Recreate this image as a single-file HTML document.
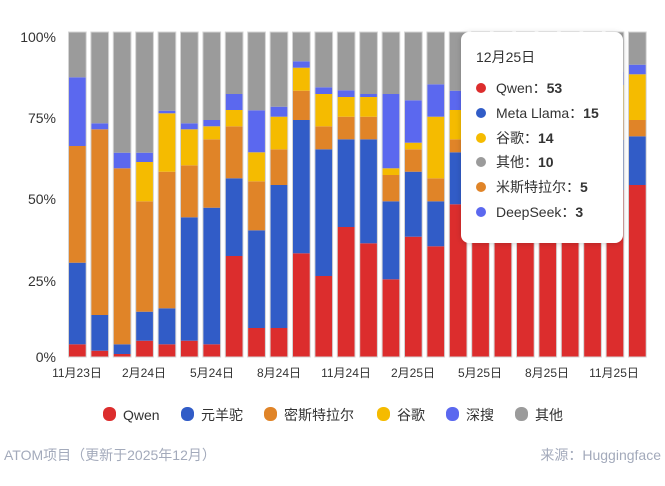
<!DOCTYPE html>
<html><head><meta charset="utf-8"><style>
body{margin:0;background:#fff;width:665px;height:481px;overflow:hidden}
text{font-family:"Liberation Sans","Noto Sans CJK SC",sans-serif}
</style></head><body>
<svg width="665" height="481" viewBox="0 0 665 481" xmlns="http://www.w3.org/2000/svg">
<g font-size="14" fill="#333" text-anchor="end">
<text x="56" y="42">100%</text><text x="56" y="123">75%</text><text x="56" y="204">50%</text><text x="56" y="286">25%</text><text x="56" y="362">0%</text>
</g>
<g id="bars"></g>
<g font-size="12" fill="#333" text-anchor="middle">
<text x="77" y="377">11月23日</text><text x="144" y="377">2月24日</text><text x="212" y="377">5月24日</text><text x="279" y="377">8月24日</text><text x="346" y="377">11月24日</text><text x="413" y="377">2月25日</text><text x="480" y="377">5月25日</text><text x="547" y="377">8月25日</text><text x="614" y="377">11月25日</text>
</g>
<g font-size="14" fill="#333">
<rect x="103" y="407" width="13" height="14" rx="6" fill="#dc2d2d"/><text x="123" y="420">Qwen</text>
<rect x="181" y="407" width="13" height="14" rx="6" fill="#315cc7"/><text x="201" y="420">元羊驼</text>
<rect x="264" y="407" width="13" height="14" rx="6" fill="#e08428"/><text x="284" y="420">密斯特拉尔</text>
<rect x="377" y="407" width="13" height="14" rx="6" fill="#f5bb00"/><text x="397" y="420">谷歌</text>
<rect x="446" y="407" width="13" height="14" rx="6" fill="#5b68ef"/><text x="466" y="420">深搜</text>
<rect x="515" y="407" width="13" height="14" rx="6" fill="#9b9b9b"/><text x="535" y="420">其他</text>
</g>
<g font-size="14" fill="#a3aabb">
<text x="4" y="460">ATOM项目（更新于2025年12月）</text>
<text x="661" y="460" text-anchor="end">来源：Huggingface</text>
</g>
<filter id="sh" x="-20%" y="-20%" width="140%" height="140%"><feDropShadow dx="0" dy="1" stdDeviation="3" flood-color="#000" flood-opacity="0.18"/></filter>
<rect x="461" y="32" width="162" height="211" rx="8" fill="#fff" filter="url(#sh)"/>
<g font-size="14" fill="#333">
<text x="476" y="62">12月25日</text>
<circle cx="481" cy="88" r="5" fill="#dc2d2d"/><text x="496" y="93">Qwen：<tspan font-weight="bold">53</tspan></text>
<circle cx="481" cy="113" r="5" fill="#315cc7"/><text x="496" y="118">Meta Llama：<tspan font-weight="bold">15</tspan></text>
<circle cx="481" cy="138" r="5" fill="#f5bb00"/><text x="496" y="143">谷歌：<tspan font-weight="bold">14</tspan></text>
<circle cx="481" cy="162" r="5" fill="#9b9b9b"/><text x="496" y="167">其他：<tspan font-weight="bold">10</tspan></text>
<circle cx="481" cy="187" r="5" fill="#e08428"/><text x="496" y="192">米斯特拉尔：<tspan font-weight="bold">5</tspan></text>
<circle cx="481" cy="212" r="5" fill="#5b68ef"/><text x="496" y="217">DeepSeek：<tspan font-weight="bold">3</tspan></text>
</g>
</svg>
<script>
var d=[[344.3,262.7,146,146,77.3],[350.7,315,129.3,129.3,123.3],[354,344.3,168.3,168.3,152.7],[340.7,311.7,201.3,162,152.7],[344.3,308.3,171.7,113.3,110.7],[340.7,217.3,165.3,129.3,123.3],[344.3,207.7,139.3,126.3,120],[256,178.3,126.3,110,94],[328,230.3,181.3,152.3,110.3],[328,185,149.3,116.7,106.7],[253.3,120,90.7,67.7,61.3],[276,149.3,126.3,94,87.3],[227,139.3,116.7,97,90.3],[243.3,139.3,116.7,97,94],[279.3,201.3,175,168.3,94],[236.7,171.7,149.3,142.7,100.3],[246.3,201.3,178.3,116.7,84.3],[204.3,152.3,139.3,110,90.7]];
for(var i=0;i<7;i++)d.push([190,140,120,85,72]);
d.push([185,136.3,120,74.3,64.7]);
var c=["#dc2d2d","#315cc7","#e08428","#f5bb00","#5b68ef","#9b9b9b"],s="";
d.forEach(function(b,i){var x=68.5+i*22.4,prev=357,t=b.concat([32]);
for(var k=0;k<6;k++){var h=prev-t[k];if(h>0)s+='<rect x="'+x+'" y="'+t[k]+'" width="17.7" height="'+h+'" fill="'+c[k]+'"/>';prev=t[k];}
s+='<rect x="'+x+'" y="32" width="17.7" height="325" fill="none" stroke="#d4d4d4" stroke-width="1"/>';});
document.getElementById("bars").innerHTML=s;
</script>
</body></html>
